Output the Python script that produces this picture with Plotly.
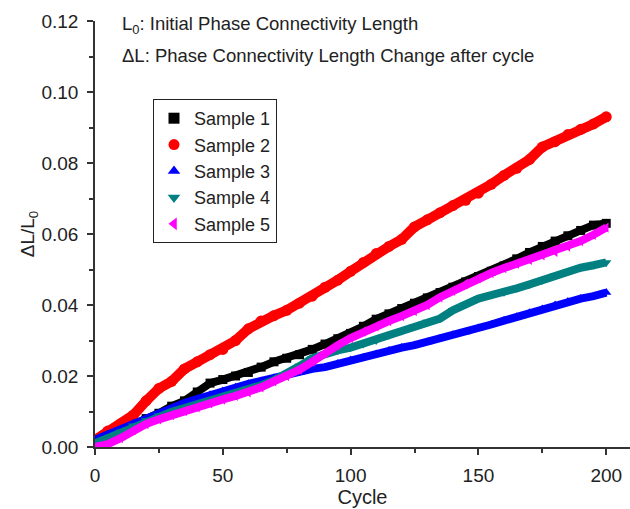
import plotly.graph_objects as go

cycles = list(range(0, 201, 5))

sample1 = [0.0015, 0.003, 0.005, 0.0065, 0.008, 0.0095, 0.0115, 0.013, 0.0155, 0.018,
           0.019, 0.020, 0.021, 0.0225, 0.024, 0.025, 0.026, 0.0275, 0.029, 0.0305,
           0.032, 0.034, 0.036, 0.0375, 0.039, 0.0405, 0.042, 0.0435, 0.045, 0.0465,
           0.048, 0.0495, 0.051, 0.053, 0.0548, 0.0565, 0.058, 0.0595, 0.061, 0.0625, 0.063]
sample2 = [0.002, 0.0045, 0.0065, 0.009, 0.013, 0.0165, 0.0185, 0.022, 0.024, 0.026,
           0.0275, 0.030, 0.0333, 0.0355, 0.037, 0.0385, 0.0405, 0.0425, 0.045, 0.047,
           0.0495, 0.052, 0.0545, 0.0565, 0.0585, 0.062, 0.064, 0.066, 0.068, 0.0695,
           0.0715, 0.074, 0.0765, 0.0785, 0.081, 0.0845, 0.086, 0.088, 0.0895, 0.091, 0.093]
sample3 = [0.002, 0.0035, 0.005, 0.0067, 0.008, 0.0095, 0.011, 0.0124, 0.0135, 0.0147,
           0.0158, 0.0168, 0.0178, 0.0186, 0.0195, 0.0205, 0.021, 0.022, 0.0225, 0.0235,
           0.0245, 0.0252, 0.0262, 0.0272, 0.028, 0.0287, 0.0296, 0.0306, 0.0316, 0.0324,
           0.0335, 0.0345, 0.0356, 0.0367, 0.0378, 0.0389, 0.040, 0.041, 0.0418, 0.0425, 0.0435]
sample4 = [0.001, 0.0025, 0.0042, 0.006, 0.0075, 0.0088, 0.0099, 0.011, 0.012, 0.013,
           0.0142, 0.0153, 0.0164, 0.0174, 0.0188, 0.0205, 0.0228, 0.025, 0.0262, 0.0272,
           0.028, 0.029, 0.030, 0.0315, 0.0327, 0.034, 0.0352, 0.0362, 0.0385, 0.0402,
           0.0418, 0.0428, 0.0436, 0.0447, 0.0458, 0.047, 0.0484, 0.0495, 0.0505, 0.0512, 0.052]
sample5 = [0.0, 0.0008, 0.0025, 0.0048, 0.0065, 0.0078, 0.009, 0.0101, 0.0112, 0.0123,
           0.0134, 0.0144, 0.0154, 0.0168, 0.0185, 0.020, 0.0218, 0.024, 0.0265, 0.0287,
           0.0307, 0.0325, 0.034, 0.0355, 0.0369, 0.0383, 0.040, 0.0422, 0.044, 0.046,
           0.0475, 0.049, 0.0504, 0.0517, 0.0527, 0.054, 0.055, 0.0565, 0.058, 0.0598, 0.0618]

names = ["Sample 1", "Sample 2", "Sample 3", "Sample 4", "Sample 5"]
series = [sample1, sample2, sample3, sample4, sample5]
colors = ["#000000", "#ff0000", "#0000ff", "#008080", "#ff00ff"]
symbols = ["square", "circle", "triangle-up", "triangle-down", "triangle-left"]
widths = [8, 10, 8, 8, 8]

FONT = "Arial, Liberation Sans, sans-serif"

fig = go.Figure()
for name, ys, c, s, w in zip(names, series, colors, symbols, widths):
    fig.add_trace(go.Scatter(x=cycles, y=ys, mode="lines+markers", showlegend=False,
                             line=dict(color=c, width=w),
                             marker=dict(symbol=s, color=c, size=w + 1)))
for name, c, s in zip(names, colors, symbols):
    fig.add_trace(go.Scatter(x=[None], y=[None], mode="markers", name=name,
                             marker=dict(symbol=s, color=c, size=11)))

L, R, T, B = 95, 0, 21, 62
W, H = 630, 509
pw, ph = W - L - R, H - T - B


def px2paper(px, py):
    return (px - L) / pw, (H - B - py) / ph


a1x, a1y = px2paper(120, 25)
a2x, a2y = px2paper(120, 56)
lgx, lgy = px2paper(153, 99)

fig.update_layout(
    width=W, height=H,
    margin=dict(l=L, r=R, t=T, b=B),
    paper_bgcolor="white", plot_bgcolor="white",
    font=dict(family=FONT, size=19, color="#222"),
    showlegend=True,
    legend=dict(x=lgx, y=lgy, xanchor="left", yanchor="top",
                bordercolor="#222", borderwidth=1, bgcolor="white",
                font=dict(size=18), tracegroupgap=0, itemwidth=30),
    annotations=[
        dict(text="L<sub>0</sub>: Initial Phase Connectivity Length", x=a1x, y=a1y,
             xref="paper", yref="paper", xanchor="left", yanchor="middle",
             showarrow=False, font=dict(size=18.5)),
        dict(text="\u0394L: Phase Connectivity Length Change after cycle", x=a2x, y=a2y,
             xref="paper", yref="paper", xanchor="left", yanchor="middle",
             showarrow=False, font=dict(size=18.5)),
    ],
)

fig.update_xaxes(range=[0, 209.3], tickvals=[0, 50, 100, 150, 200], automargin=False,
                 ticks="outside", ticklen=6, tickwidth=1.5, tickcolor="#333",
                 ticklabelstandoff=4,
                 showline=True, linecolor="#333", linewidth=1.5,
                 showgrid=False, zeroline=False,
                 minor=dict(ticks="outside", ticklen=4, tickwidth=1.5, tickcolor="#333", dtick=25, tick0=0, showgrid=False),
                 title=dict(text="Cycle", font=dict(size=20), standoff=4))
fig.update_yaxes(range=[0, 0.12], tickvals=[0, 0.02, 0.04, 0.06, 0.08, 0.10, 0.12], automargin=False,
                 tickformat=".2f",
                 ticks="outside", ticklen=6, tickwidth=1.5, tickcolor="#333",
                 ticklabelstandoff=5,
                 showline=True, linecolor="#333", linewidth=1.5,
                 showgrid=False, zeroline=False,
                 minor=dict(ticks="outside", ticklen=4, tickwidth=1.5, tickcolor="#333", dtick=0.01, tick0=0, showgrid=False),
                 title=dict(text="\u0394L/L<sub>0</sub>", font=dict(size=19), standoff=2))

fig.write_html("out.html", config={"displayModeBar": False},
               post_script="document.body.style.margin='0';")
